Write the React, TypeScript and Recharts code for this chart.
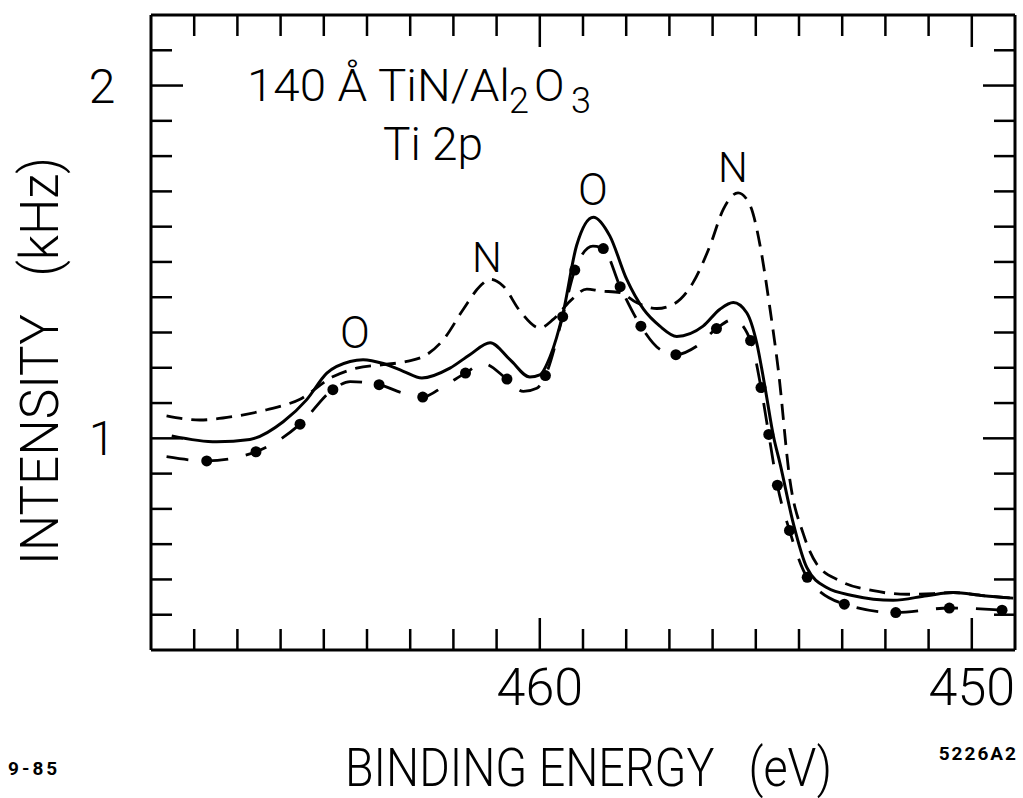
import { ComposedChart, Line, Scatter, XAxis, YAxis } from "recharts";

const FONT = "Roboto, 'DejaVu Sans', Arial, sans-serif";

// binding energy ticks (eV), one per eV; the labelled ones get a long tick
const X_TICKS = [450, 451, 452, 453, 454, 455, 456, 457, 458, 459, 460, 461, 462, 463, 464, 465, 466, 467, 468];
const X_MAJOR = [450, 460];
// intensity ticks (kHz), one per 0.1
const Y_TICKS = [0.5, 0.6, 0.7, 0.8, 0.9, 1.0, 1.1, 1.2, 1.3, 1.4, 1.5, 1.6, 1.7, 1.8, 1.9, 2.0, 2.1];
const Y_MAJOR = [1, 2];

// solid curve
const SOLID_EV = [468.52, 467.48, 466.71, 465.94, 465.4, 464.93, 464.39, 464.09, 463.62, 463.16, 462.73, 462.08, 461.62, 461.15, 460.69, 460.23, 460.0, 459.76, 459.46, 459.15, 458.76, 458.38, 457.99, 457.6, 457.22, 456.83, 456.22, 455.83, 455.52, 455.21, 454.98, 454.79, 454.59, 454.44, 454.13, 453.82, 453.36, 452.74, 451.82, 451.04, 450.43, 449.73, 449.04];
const SOLID_I = [1.007, 0.99, 0.997, 1.047, 1.109, 1.185, 1.218, 1.223, 1.212, 1.19, 1.171, 1.199, 1.237, 1.271, 1.223, 1.174, 1.18, 1.232, 1.356, 1.546, 1.627, 1.574, 1.451, 1.366, 1.318, 1.289, 1.318, 1.366, 1.385, 1.356, 1.271, 1.147, 1.005, 0.929, 0.758, 0.634, 0.577, 0.554, 0.541, 0.554, 0.563, 0.554, 0.547];

// dashed curve
const DASHED_EV = [468.64, 467.87, 467.09, 466.32, 465.55, 464.78, 464.24, 463.62, 463.08, 462.62, 462.23, 461.77, 461.38, 461.15, 460.85, 460.46, 460.0, 459.69, 459.3, 458.91, 458.61, 458.14, 457.76, 457.29, 456.91, 456.45, 456.06, 455.75, 455.41, 455.13, 454.9, 454.67, 454.48, 454.21, 453.9, 453.59, 453.05, 452.28, 451.51, 450.89, 450.43, 449.73, 449.04];
const DASHED_I = [1.064, 1.052, 1.062, 1.081, 1.111, 1.175, 1.199, 1.209, 1.218, 1.237, 1.28, 1.366, 1.432, 1.451, 1.432, 1.361, 1.313, 1.337, 1.389, 1.423, 1.418, 1.413, 1.385, 1.368, 1.38, 1.442, 1.546, 1.65, 1.696, 1.66, 1.546, 1.366, 1.195, 0.881, 0.729, 0.644, 0.596, 0.568, 0.558, 0.56, 0.563, 0.554, 0.547];

// dash-dot curve and its dots
const DOTTED_EV = [468.64, 467.71, 466.57, 465.55, 464.79, 464.39, 463.72, 463.16, 462.71, 462.23, 461.72, 461.31, 460.76, 460.38, 460.07, 459.87, 459.47, 459.19, 458.77, 458.53, 458.14, 457.66, 457.22, 456.85, 456.37, 455.91, 455.52, 455.12, 454.88, 454.7, 454.5, 454.22, 453.81, 452.95, 451.76, 450.52, 449.3, 449.05];
const DOTTED_I = [0.948, 0.936, 0.962, 1.04, 1.138, 1.161, 1.152, 1.128, 1.117, 1.147, 1.185, 1.212, 1.168, 1.133, 1.142, 1.178, 1.345, 1.477, 1.545, 1.538, 1.43, 1.318, 1.252, 1.237, 1.261, 1.311, 1.337, 1.277, 1.144, 1.011, 0.867, 0.739, 0.606, 0.53, 0.506, 0.519, 0.513, 0.511];
const DOT_EV = [467.71, 466.57, 465.55, 464.79, 463.72, 462.71, 461.72, 460.76, 459.87, 459.47, 459.19, 458.53, 458.14, 457.66, 456.85, 455.91, 455.12, 454.88, 454.7, 454.5, 454.22, 453.81, 452.95, 451.76, 450.52, 449.3];
const DOT_I = [0.936, 0.962, 1.04, 1.138, 1.152, 1.117, 1.185, 1.168, 1.178, 1.345, 1.477, 1.538, 1.43, 1.318, 1.237, 1.311, 1.277, 1.144, 1.011, 0.867, 0.739, 0.606, 0.53, 0.506, 0.519, 0.513];

const zip = (ev: number[], inten: number[]) => ev.map((e, k) => ({ e, i: inten[k] }));
const solid = zip(SOLID_EV, SOLID_I);
const dashed = zip(DASHED_EV, DASHED_I);
const dotted = zip(DOTTED_EV, DOTTED_I);
const dots = zip(DOT_EV, DOT_I);

const W = 1023;
const H = 798;
const frame = { stroke: "#000", strokeWidth: 3 };
const txt = { fontFamily: FONT, fontWeight: 300, fill: "#000" } as const;

const tickLen = (major: boolean) => (major ? 32 : 21);

// plot box edges in page pixels
const LEFT = 151;
const RIGHT = 1015;
const TOP = 15;
const BOTTOM = 650;

function BottomTick({ x, payload }: any) {
  const major = X_MAJOR.includes(payload.value);
  return (
    <g>
      <line x1={x} x2={x} y1={BOTTOM} y2={BOTTOM - tickLen(major)} stroke="#000" strokeWidth={2.5} />
      {major && (
        <text x={x} y={BOTTOM + 55} textAnchor="middle" fontSize={52} {...txt}>
          {payload.value}
        </text>
      )}
    </g>
  );
}

function TopTick({ x, payload }: any) {
  const major = X_MAJOR.includes(payload.value);
  return <line x1={x} x2={x} y1={TOP} y2={TOP + tickLen(major)} stroke="#000" strokeWidth={2.5} />;
}

function LeftTick({ y, payload }: any) {
  const major = Y_MAJOR.includes(payload.value);
  return (
    <g>
      <line x1={LEFT} x2={LEFT + tickLen(major)} y1={y} y2={y} stroke="#000" strokeWidth={2.5} />
      {major && (
        <text x={LEFT - 49} y={y + 17} textAnchor="middle" fontSize={48} {...txt}>
          {payload.value}
        </text>
      )}
    </g>
  );
}

function RightTick({ y, payload }: any) {
  const major = Y_MAJOR.includes(payload.value);
  return <line x1={RIGHT} x2={RIGHT - tickLen(major)} y1={y} y2={y} stroke="#000" strokeWidth={2.5} />;
}

export default function App() {
  return (
    <div style={{ position: "absolute", left: 0, top: 0, width: W, height: H, background: "#fff" }}>
      <ComposedChart
        width={W}
        height={H}
        margin={{ top: TOP - 1, right: W - RIGHT - 1, bottom: H - BOTTOM - 1, left: LEFT - 1 }}
      >
        <XAxis
          dataKey="e"
          type="number"
          domain={[449, 469]}
          reversed
          allowDataOverflow
          ticks={X_TICKS}
          interval={0}
          height={1}
          tickSize={0}
          tickMargin={0}
          tickLine={false}
          axisLine={frame}
          tick={BottomTick}
        />
        <XAxis
          xAxisId="top"
          orientation="top"
          dataKey="e"
          type="number"
          domain={[449, 469]}
          reversed
          allowDataOverflow
          ticks={X_TICKS}
          interval={0}
          height={1}
          tickSize={0}
          tickMargin={0}
          tickLine={false}
          axisLine={frame}
          tick={TopTick}
        />
        <YAxis
          type="number"
          domain={[0.4, 2.2]}
          allowDataOverflow
          ticks={Y_TICKS}
          interval={0}
          width={1}
          tickSize={0}
          tickMargin={0}
          tickLine={false}
          axisLine={frame}
          tick={LeftTick}
        />
        <YAxis
          yAxisId="right"
          orientation="right"
          type="number"
          domain={[0.4, 2.2]}
          allowDataOverflow
          ticks={Y_TICKS}
          interval={0}
          width={1}
          tickSize={0}
          tickMargin={0}
          tickLine={false}
          axisLine={frame}
          tick={RightTick}
        />
        <Line data={dashed} dataKey="i" type="monotone" stroke="#000" strokeWidth={2.8} strokeDasharray="16 9" dot={false} isAnimationActive={false} />
        <Line data={solid} dataKey="i" type="monotone" stroke="#000" strokeWidth={3} dot={false} isAnimationActive={false} />
        <Line data={dotted} dataKey="i" type="monotone" stroke="#000" strokeWidth={2.8} strokeDasharray="22 18" dot={false} isAnimationActive={false} />
        <Scatter
          data={dots}
          dataKey="i"
          isAnimationActive={false}
          shape={(p: any) => <circle cx={p.cx} cy={p.cy} r={5.5} fill="#000" />}
        />
      </ComposedChart>

      <svg width={W} height={H} style={{ position: "absolute", left: 0, top: 0, pointerEvents: "none" }}>
        {/* sample / core level */}
        <text x={247} y={101} fontSize={45} textLength={263} lengthAdjust="spacingAndGlyphs" {...txt}>
          140 Å TiN/Al
        </text>
        <text x={509} y={113} fontSize={36} {...txt}>2</text>
        <text x={534} y={101} fontSize={45} {...txt}>O</text>
        <text x={571} y={113} fontSize={36} {...txt}>3</text>
        <text x={433} y={160} fontSize={46} textAnchor="middle" {...txt}>Ti 2p</text>

        {/* peak labels */}
        <text x={355} y={348} fontSize={44} textAnchor="middle" {...txt}>O</text>
        <text x={487} y={272} fontSize={42} textAnchor="middle" {...txt}>N</text>
        <text x={593} y={205} fontSize={44} textAnchor="middle" {...txt}>O</text>
        <text x={733} y={182} fontSize={42} textAnchor="middle" {...txt}>N</text>

        {/* axis titles */}
        <text
          x={345}
          y={786}
          fontSize={54}
          textLength={487}
          lengthAdjust="spacingAndGlyphs"
          style={{ whiteSpace: "pre" }}
          {...txt}
        >
          {"BINDING ENERGY   (eV)"}
        </text>
        <text
          x={58}
          y={565}
          fontSize={54}
          textLength={408}
          lengthAdjust="spacingAndGlyphs"
          transform="rotate(-90 58 565)"
          style={{ whiteSpace: "pre" }}
          {...txt}
        >
          {"INTENSITY   (kHz)"}
        </text>

        {/* plate marks */}
        <text x={8} y={775} fontSize={19} fontWeight={700} fontFamily={FONT} letterSpacing={3} fill="#000">9-85</text>
        <text x={1018} y={760} fontSize={19} fontWeight={700} fontFamily={FONT} letterSpacing={2} textAnchor="end" fill="#000">5226A2</text>
      </svg>
    </div>
  );
}
